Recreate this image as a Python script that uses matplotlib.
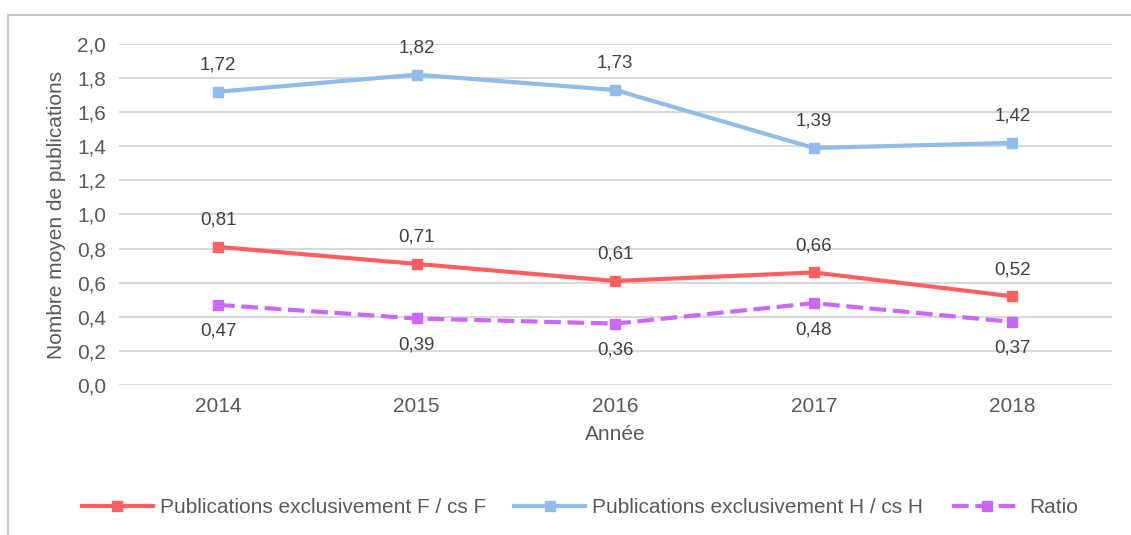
import matplotlib
matplotlib.use("Agg")
import matplotlib.pyplot as plt
from matplotlib.patches import Rectangle

annees = ["2014", "2015", "2016", "2017", "2018"]
pub_f = [0.81, 0.71, 0.61, 0.66, 0.52]
pub_h = [1.72, 1.82, 1.73, 1.39, 1.42]
ratio = [0.47, 0.39, 0.36, 0.48, 0.37]

rouge = "#FF5F5F"
bleu = "#8FBCEA"
violet = "#CC66FF"
gris = "#595959"

plt.rcParams['font.family'] = ['Liberation Sans', 'DejaVu Sans']

fig = plt.figure(figsize=(11.31, 5.35), dpi=100)
ax = fig.add_axes([0.105, 0.2804, 0.878, 0.6374])

# cadre autour du graphique
fig.patches.append(Rectangle((8 / 1131, -0.1), 1.2, 1.1 - 15 / 535,
                             transform=fig.transFigure, fill=False,
                             edgecolor="#C8C8C8", linewidth=1.5))

x = list(range(len(annees)))
ax.plot(x, pub_f, color=rouge, lw=3, marker="s", ms=7, label="Publications exclusivement F / cs F")
ax.plot(x, pub_h, color=bleu, lw=3, marker="s", ms=7, label="Publications exclusivement H / cs H")
ax.plot(x, ratio, color=violet, lw=3, ls=(0, (4, 1.6)), marker="s", ms=7, label="Ratio")

def fmt(v):
    return ("%.2f" % v).replace(".", ",")

for i in x:
    ax.annotate(fmt(pub_h[i]), (i, pub_h[i]), xytext=(0, 13), textcoords="offset points",
                ha="center", va="bottom", fontsize=13.5, color="#404040")
    ax.annotate(fmt(pub_f[i]), (i, pub_f[i]), xytext=(0, 13), textcoords="offset points",
                ha="center", va="bottom", fontsize=13.5, color="#404040")
    ax.annotate(fmt(ratio[i]), (i, ratio[i]), xytext=(0, -13), textcoords="offset points",
                ha="center", va="top", fontsize=13.5, color="#404040")

ax.set_xlim(-0.5, 4.5)
ax.set_ylim(0, 2.0)
ax.set_yticks([i / 10 for i in range(0, 21, 2)])
ax.set_yticklabels([("%.1f" % (i / 10)).replace(".", ",") for i in range(0, 21, 2)])
ax.set_xticks(x)
ax.set_xticklabels(annees)
ax.grid(axis="y", color="#D9D9D9", lw=1.5)
ax.set_axisbelow(True)
for s in ax.spines.values():
    s.set_visible(False)
ax.tick_params(length=0, labelsize=15, colors=gris, pad=9)
ax.set_xlabel("Année", fontsize=15, color=gris, labelpad=6)
ax.set_ylabel("Nombre moyen de publications", fontsize=15, color=gris, labelpad=8)

fig.legend(loc="center", bbox_to_anchor=(0.513, 0.051), ncol=3, frameon=False,
           fontsize=15, labelcolor=gris, handlelength=3.4, columnspacing=1.35,
           handletextpad=0.35)

fig.savefig("out.png", dpi=100)
